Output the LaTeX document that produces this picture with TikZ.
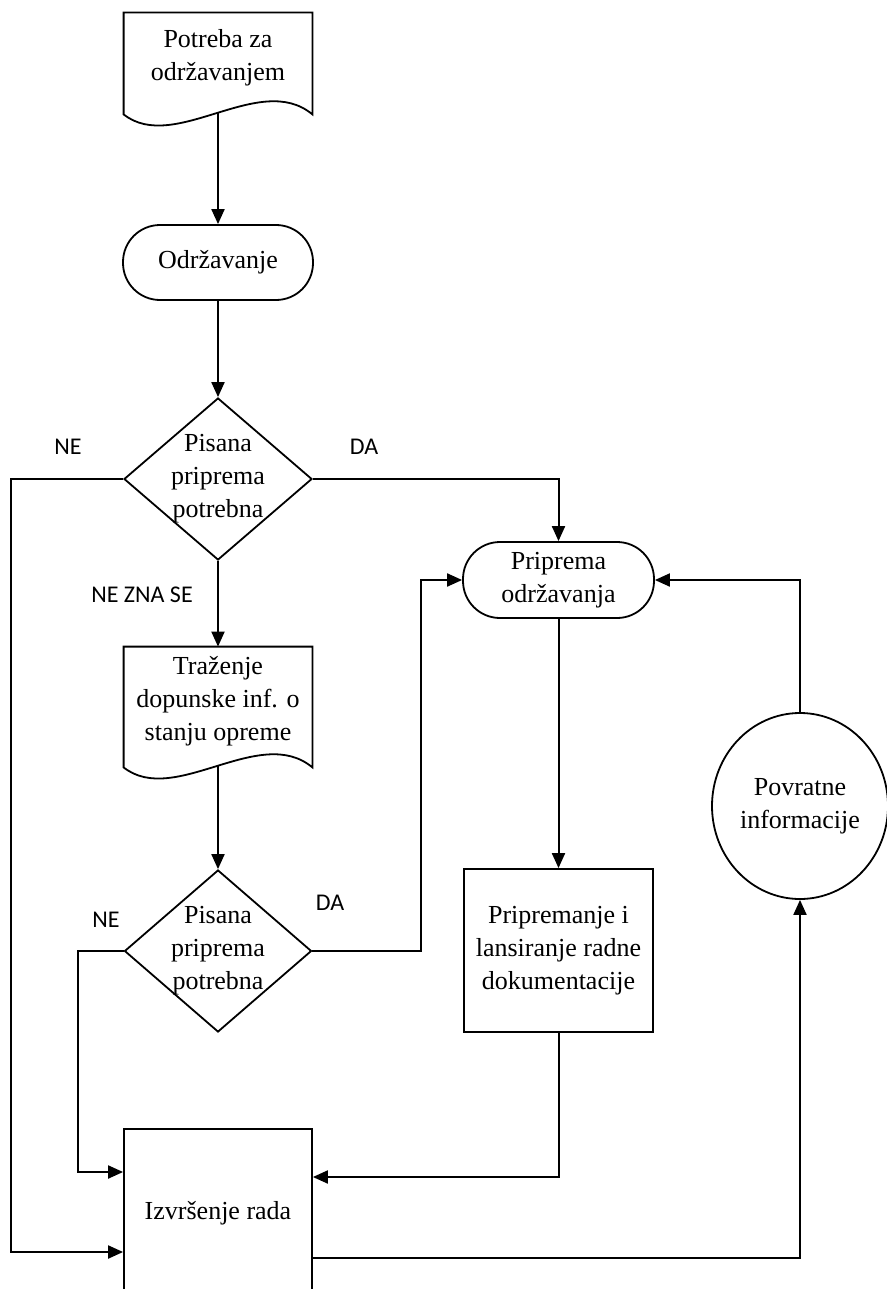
\documentclass[tikz,border=0pt]{standalone}
\usepackage{fontspec}
\setmainfont{Liberation Serif}
\newfontfamily\lblfont{Carlito}
\usetikzlibrary{shapes.geometric,arrows.meta,calc}

\tikzset{
  txt/.style={font=\fontsize{13pt}{16.5pt}\selectfont, align=center},
  boxshape/.style={draw, line width=0.9pt, inner sep=0pt, txt},
  termshape/.style={boxshape, rounded corners=18.5pt},
  decshape/.style={draw, line width=0.9pt, diamond, inner sep=0pt},
  docarea/.style={inner sep=0pt, txt},
  ovalshape/.style={draw, line width=0.9pt, ellipse, inner sep=0pt, txt},
  outline/.style={draw, line width=0.9pt},
  flow/.style={draw, line width=1pt, -{Triangle[length=7.5pt,width=6.5pt]}},
  lbl/.style={font=\lblfont\fontsize{12pt}{14pt}\selectfont, inner sep=0pt},
}

\begin{document}
\begin{tikzpicture}[x=0.5pt,y=-0.5pt]
  \path[use as bounding box, fill=white] (0,0) rectangle (887,1289);

  % document shapes: text area plus wavy outline
  \node[docarea, minimum width=94pt, minimum height=45pt] (doc1) at (218,58)
    {Potreba za\\održavanjem};
  \path[outline] (doc1.north west) -- (doc1.north east)
    -- ($(doc1.south east)+(0,11)$)
    .. controls ($(doc1.south west)+(136,-33)$) and ($(doc1.south west)+(51,51)$)
    .. ($(doc1.south west)+(0,11)$) -- cycle;
  \coordinate (doc1out) at ($(doc1.south)+(0,9.5)$);

  \node[termshape, minimum width=95pt, minimum height=37.5pt] (term1) at (218,262.5)
    {Održavanje};

  \node[decshape, minimum width=94pt, minimum height=81pt,
        label={[txt]center:Pisana\\priprema\\potrebna}] (dec1) at (218,479) {};

  \node[termshape, minimum width=95.5pt, minimum height=38pt] (term2) at (558.5,580)
    {Priprema\\održavanja};

  \node[docarea, minimum width=94pt, minimum height=54.5pt] (doc2) at (218,701.5)
    {Traženje\\dopunske inf. o\\stanju opreme};
  \path[outline] (doc2.north west) -- (doc2.north east)
    -- ($(doc2.south east)+(0,11)$)
    .. controls ($(doc2.south west)+(136,-33)$) and ($(doc2.south west)+(51,51)$)
    .. ($(doc2.south west)+(0,11)$) -- cycle;
  \coordinate (doc2out) at ($(doc2.south)+(0,9.5)$);

  \node[decshape, minimum width=93.5pt, minimum height=81pt,
        label={[txt]center:Pisana\\priprema\\potrebna}] (dec2) at (218,951) {};

  \node[boxshape, minimum width=94.5pt, minimum height=81.5pt] (prep) at (558.5,950.5)
    {Pripremanje i\\lansiranje radne\\dokumentacije};

  \node[ovalshape, minimum width=88pt, minimum height=93pt] (fb) at (800,806)
    {Povratne\\informacije};

  \node[boxshape, minimum width=94pt, minimum height=84pt] (izv) at (218,1213)
    {Izvršenje rada};

  % connectors
  \draw[flow] (doc1out) -- (term1.north);
  \draw[flow] (term1.south) -- (dec1.north);
  \draw[flow] (dec1.west) -- ++(-112,0) |- ([yshift=-19.5pt]izv.west);
  \draw[flow] (dec1.east) -| (term2.north);
  \draw[flow] (dec1.south) -- (doc2.north);
  \draw[flow] (doc2out) -- (dec2.north);
  \draw[flow] (dec2.east) -- ++(109,0) |- (term2.west);
  \draw[flow] (dec2.west) -- ++(-46,0) |- ([yshift=20.5pt]izv.west);
  \draw[flow] (term2.south) -- (prep.north);
  \draw[flow] (prep.south) |- ([yshift=18pt]izv.east);
  \draw[flow] ([yshift=-22.5pt]izv.east) -| (fb.south);
  \draw[flow] (fb.north) |- (term2.east);

  % branch labels
  \node[lbl] (ne1) at (68,447) {NE};
  \node[lbl] (da1) at (364,447) {DA};
  \node[lbl] (nz) at (142,595) {NE ZNA SE};
  \node[lbl] (ne2) at (106,920) {NE};
  \node[lbl] (da2) at (330,903) {DA};
\end{tikzpicture}
\end{document}
